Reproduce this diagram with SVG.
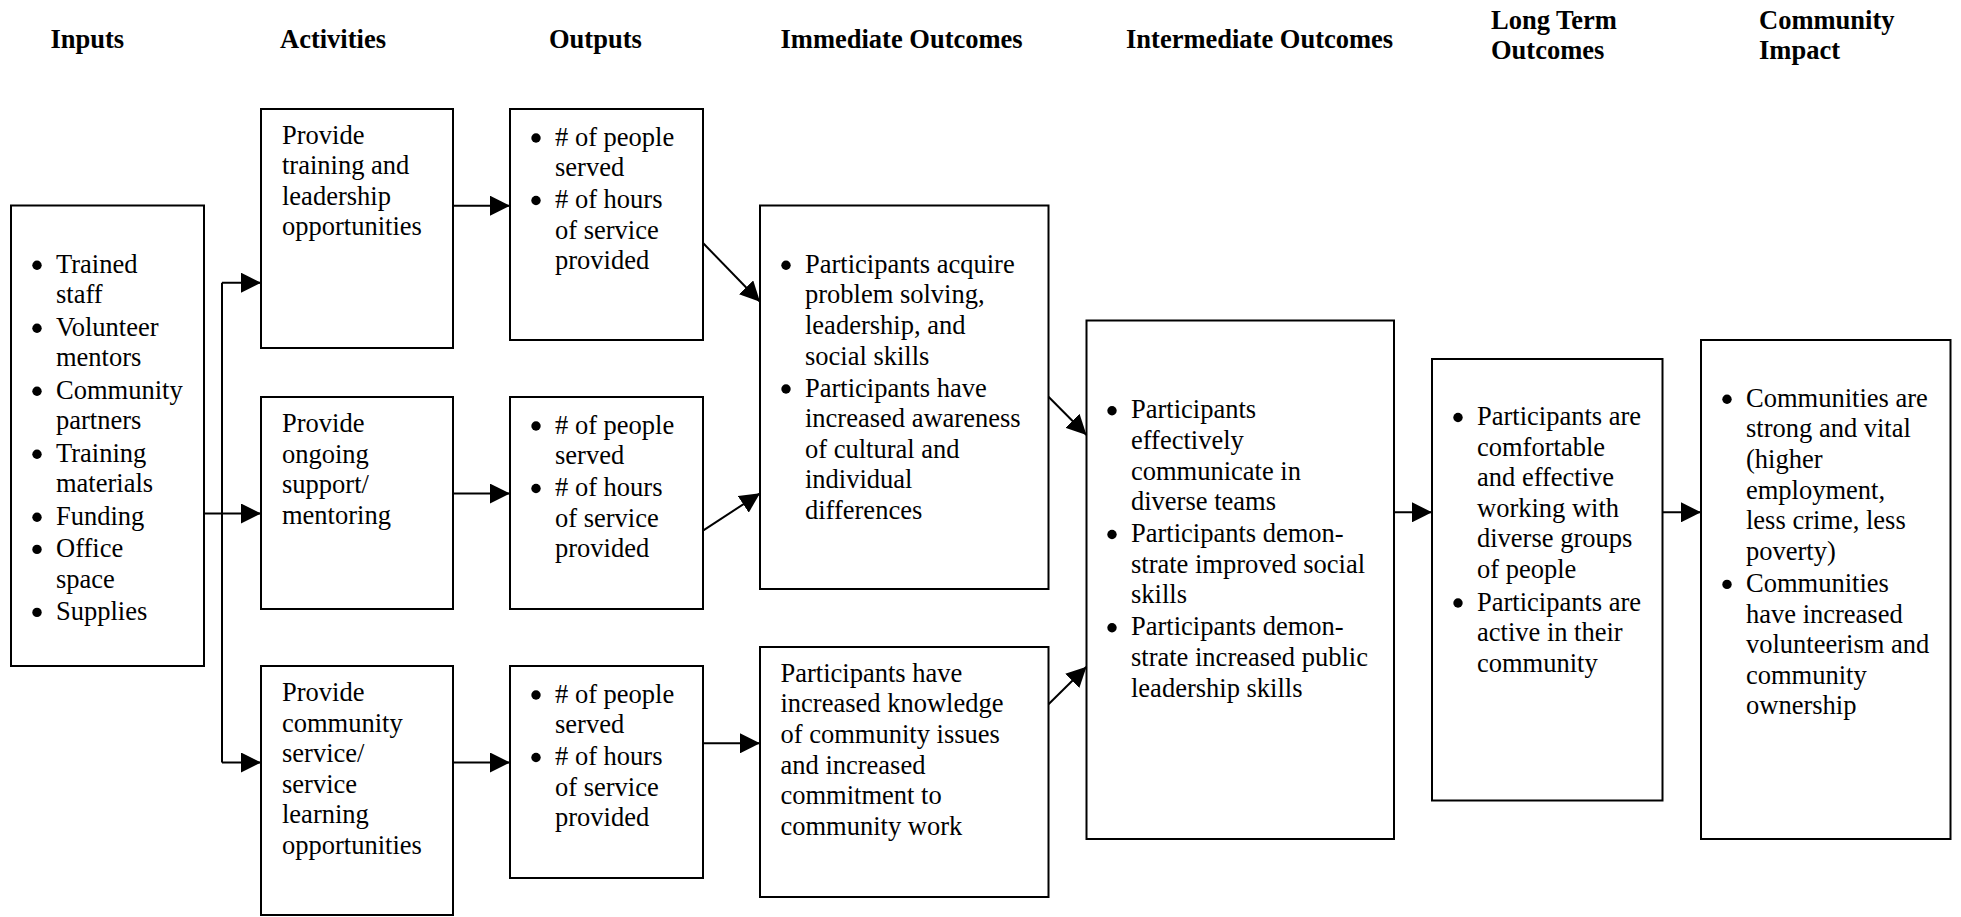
<svg xmlns="http://www.w3.org/2000/svg" width="1961" height="917" viewBox="0 0 1961 917">
<defs>
<marker id="arr" markerUnits="userSpaceOnUse" markerWidth="20" markerHeight="20" refX="20" refY="10" orient="auto" viewBox="0 0 20 20">
<path d="M0,0 L20,10 L0,20 z" fill="#000"/>
</marker>
<style>
.box{fill:#fff;stroke:#000;stroke-width:2}
.t{font-family:"Liberation Serif","Times New Roman",serif;font-size:26.5px;fill:#000}
.h{font-family:"Liberation Serif","Times New Roman",serif;font-size:26.5px;font-weight:bold;fill:#000}
.d{fill:#000}
.c{fill:none;stroke:#000;stroke-width:2}
.ca{fill:none;stroke:#000;stroke-width:2;marker-end:url(#arr)}
</style>
</defs>
<rect width="1961" height="917" fill="#fff"/>
<g id="headers">
<text class="h" x="50.5" y="47.5">Inputs</text>
<text class="h" x="280" y="47.5">Activities</text>
<text class="h" x="549" y="47.5">Outputs</text>
<text class="h" x="780.5" y="47.5">Immediate Outcomes</text>
<text class="h" x="1126" y="47.5">Intermediate Outcomes</text>
<text class="h" x="1491" y="29">Long Term</text>
<text class="h" x="1491" y="59">Outcomes</text>
<text class="h" x="1759" y="29">Community</text>
<text class="h" x="1759" y="59">Impact</text>
</g>
<g id="inputs">
<rect class="box" x="11" y="205.5" width="193" height="460.5"/>
<circle class="d" cx="37" cy="265.2" r="4.7"/><text class="t" x="56" y="272.7">Trained</text>
<text class="t" x="56" y="303.4">staff</text>
<circle class="d" cx="37" cy="328.2" r="4.7"/><text class="t" x="56" y="335.7">Volunteer</text>
<text class="t" x="56" y="366.4">mentors</text>
<circle class="d" cx="37" cy="391.2" r="4.7"/><text class="t" x="56" y="398.7">Community</text>
<text class="t" x="56" y="429.4">partners</text>
<circle class="d" cx="37" cy="454.2" r="4.7"/><text class="t" x="56" y="461.7">Training</text>
<text class="t" x="56" y="492.4">materials</text>
<circle class="d" cx="37" cy="517.2" r="4.7"/><text class="t" x="56" y="524.7">Funding</text>
<circle class="d" cx="37" cy="549.4" r="4.7"/><text class="t" x="56" y="556.9">Office</text>
<text class="t" x="56" y="587.6">space</text>
<circle class="d" cx="37" cy="612.4" r="4.7"/><text class="t" x="56" y="619.9">Supplies</text>
</g>
<g id="activity1">
<rect class="box" x="261" y="109" width="192" height="239"/>
<text class="t" x="282" y="143.5">Provide</text>
<text class="t" x="282" y="174.1">training and</text>
<text class="t" x="282" y="204.7">leadership</text>
<text class="t" x="282" y="235.3">opportunities</text>
</g>
<g id="activity2">
<rect class="box" x="261" y="397" width="192" height="212"/>
<text class="t" x="282" y="432">Provide</text>
<text class="t" x="282" y="462.6">ongoing</text>
<text class="t" x="282" y="493.2">support/</text>
<text class="t" x="282" y="523.8">mentoring</text>
</g>
<g id="activity3">
<rect class="box" x="261" y="666" width="192" height="249"/>
<text class="t" x="282" y="701">Provide</text>
<text class="t" x="282" y="731.6">community</text>
<text class="t" x="282" y="762.2">service/</text>
<text class="t" x="282" y="792.8">service</text>
<text class="t" x="282" y="823.4">learning</text>
<text class="t" x="282" y="854">opportunities</text>
</g>
<g id="output1">
<rect class="box" x="510" y="109" width="193" height="231"/>
<circle class="d" cx="536" cy="138" r="4.7"/><text class="t" x="555" y="145.5"># of people</text>
<text class="t" x="555" y="176.1">served</text>
<circle class="d" cx="536" cy="200.5" r="4.7"/><text class="t" x="555" y="208"># of hours</text>
<text class="t" x="555" y="238.6">of service</text>
<text class="t" x="555" y="269.2">provided</text>
</g>
<g id="output2">
<rect class="box" x="510" y="397" width="193" height="212"/>
<circle class="d" cx="536" cy="426" r="4.7"/><text class="t" x="555" y="433.5"># of people</text>
<text class="t" x="555" y="464.1">served</text>
<circle class="d" cx="536" cy="488.5" r="4.7"/><text class="t" x="555" y="496"># of hours</text>
<text class="t" x="555" y="526.6">of service</text>
<text class="t" x="555" y="557.2">provided</text>
</g>
<g id="output3">
<rect class="box" x="510" y="666" width="193" height="212"/>
<circle class="d" cx="536" cy="695" r="4.7"/><text class="t" x="555" y="702.5"># of people</text>
<text class="t" x="555" y="733.1">served</text>
<circle class="d" cx="536" cy="757.5" r="4.7"/><text class="t" x="555" y="765"># of hours</text>
<text class="t" x="555" y="795.6">of service</text>
<text class="t" x="555" y="826.2">provided</text>
</g>
<g id="immediate1">
<rect class="box" x="760" y="205.5" width="288.5" height="383.5"/>
<circle class="d" cx="786" cy="265.2" r="4.7"/><text class="t" x="805" y="272.7">Participants acquire</text>
<text class="t" x="805" y="303.3">problem solving,</text>
<text class="t" x="805" y="333.9">leadership, and</text>
<text class="t" x="805" y="364.5">social skills</text>
<circle class="d" cx="786" cy="389" r="4.7"/><text class="t" x="805" y="396.5">Participants have</text>
<text class="t" x="805" y="427.1">increased awareness</text>
<text class="t" x="805" y="457.7">of cultural and</text>
<text class="t" x="805" y="488.3">individual</text>
<text class="t" x="805" y="518.9">differences</text>
</g>
<g id="immediate2">
<rect class="box" x="760" y="647" width="288.5" height="250"/>
<text class="t" x="780.5" y="681.7">Participants have</text>
<text class="t" x="780.5" y="712.3">increased knowledge</text>
<text class="t" x="780.5" y="742.9">of community issues</text>
<text class="t" x="780.5" y="773.5">and increased</text>
<text class="t" x="780.5" y="804.1">commitment to</text>
<text class="t" x="780.5" y="834.7">community work</text>
</g>
<g id="intermediate">
<rect class="box" x="1086.5" y="320.5" width="307.5" height="518.5"/>
<circle class="d" cx="1112" cy="410.8" r="4.7"/><text class="t" x="1131" y="418.3">Participants</text>
<text class="t" x="1131" y="448.9">effectively</text>
<text class="t" x="1131" y="479.5">communicate in</text>
<text class="t" x="1131" y="510.1">diverse teams</text>
<circle class="d" cx="1112" cy="534.5" r="4.7"/><text class="t" x="1131" y="542">Participants demon-</text>
<text class="t" x="1131" y="572.6">strate improved social</text>
<text class="t" x="1131" y="603.2">skills</text>
<circle class="d" cx="1112" cy="627.8" r="4.7"/><text class="t" x="1131" y="635.3">Participants demon-</text>
<text class="t" x="1131" y="665.9">strate increased public</text>
<text class="t" x="1131" y="696.5">leadership skills</text>
</g>
<g id="longterm">
<rect class="box" x="1432" y="359" width="230.5" height="441.5"/>
<circle class="d" cx="1458" cy="417.5" r="4.7"/><text class="t" x="1477" y="425">Participants are</text>
<text class="t" x="1477" y="455.6">comfortable</text>
<text class="t" x="1477" y="486.2">and effective</text>
<text class="t" x="1477" y="516.8">working with</text>
<text class="t" x="1477" y="547.4">diverse groups</text>
<text class="t" x="1477" y="578">of people</text>
<circle class="d" cx="1458" cy="603" r="4.7"/><text class="t" x="1477" y="610.5">Participants are</text>
<text class="t" x="1477" y="641.1">active in their</text>
<text class="t" x="1477" y="671.7">community</text>
</g>
<g id="impact">
<rect class="box" x="1701" y="340" width="249.5" height="499"/>
<circle class="d" cx="1727" cy="399.2" r="4.7"/><text class="t" x="1746" y="406.7">Communities are</text>
<text class="t" x="1746" y="437.3">strong and vital</text>
<text class="t" x="1746" y="467.9">(higher</text>
<text class="t" x="1746" y="498.5">employment,</text>
<text class="t" x="1746" y="529.1">less crime, less</text>
<text class="t" x="1746" y="559.7">poverty)</text>
<circle class="d" cx="1727" cy="584.4" r="4.7"/><text class="t" x="1746" y="591.9">Communities</text>
<text class="t" x="1746" y="622.5">have increased</text>
<text class="t" x="1746" y="653.1">volunteerism and</text>
<text class="t" x="1746" y="683.7">community</text>
<text class="t" x="1746" y="714.3">ownership</text>
</g>
<g id="connectors">
<path class="ca" d="M204,513.5 H261"/>
<path class="c" d="M222,282.7 V762.5"/>
<path class="ca" d="M222,282.7 H261"/>
<path class="ca" d="M222,762.5 H261"/>
<path class="ca" d="M453,205.7 H510"/>
<path class="ca" d="M453,493.6 H510"/>
<path class="ca" d="M453,762.5 H510"/>
<path class="ca" d="M703,243 L760,301.7"/>
<path class="ca" d="M703,530.7 L760,493.3"/>
<path class="ca" d="M703,743.3 H760"/>
<path class="ca" d="M1048.5,396.7 L1086.5,435"/>
<path class="ca" d="M1048.5,704.3 L1086.5,666.7"/>
<path class="ca" d="M1394,512.3 H1432"/>
<path class="ca" d="M1662.5,512.3 H1701"/>
</g>
</svg>
